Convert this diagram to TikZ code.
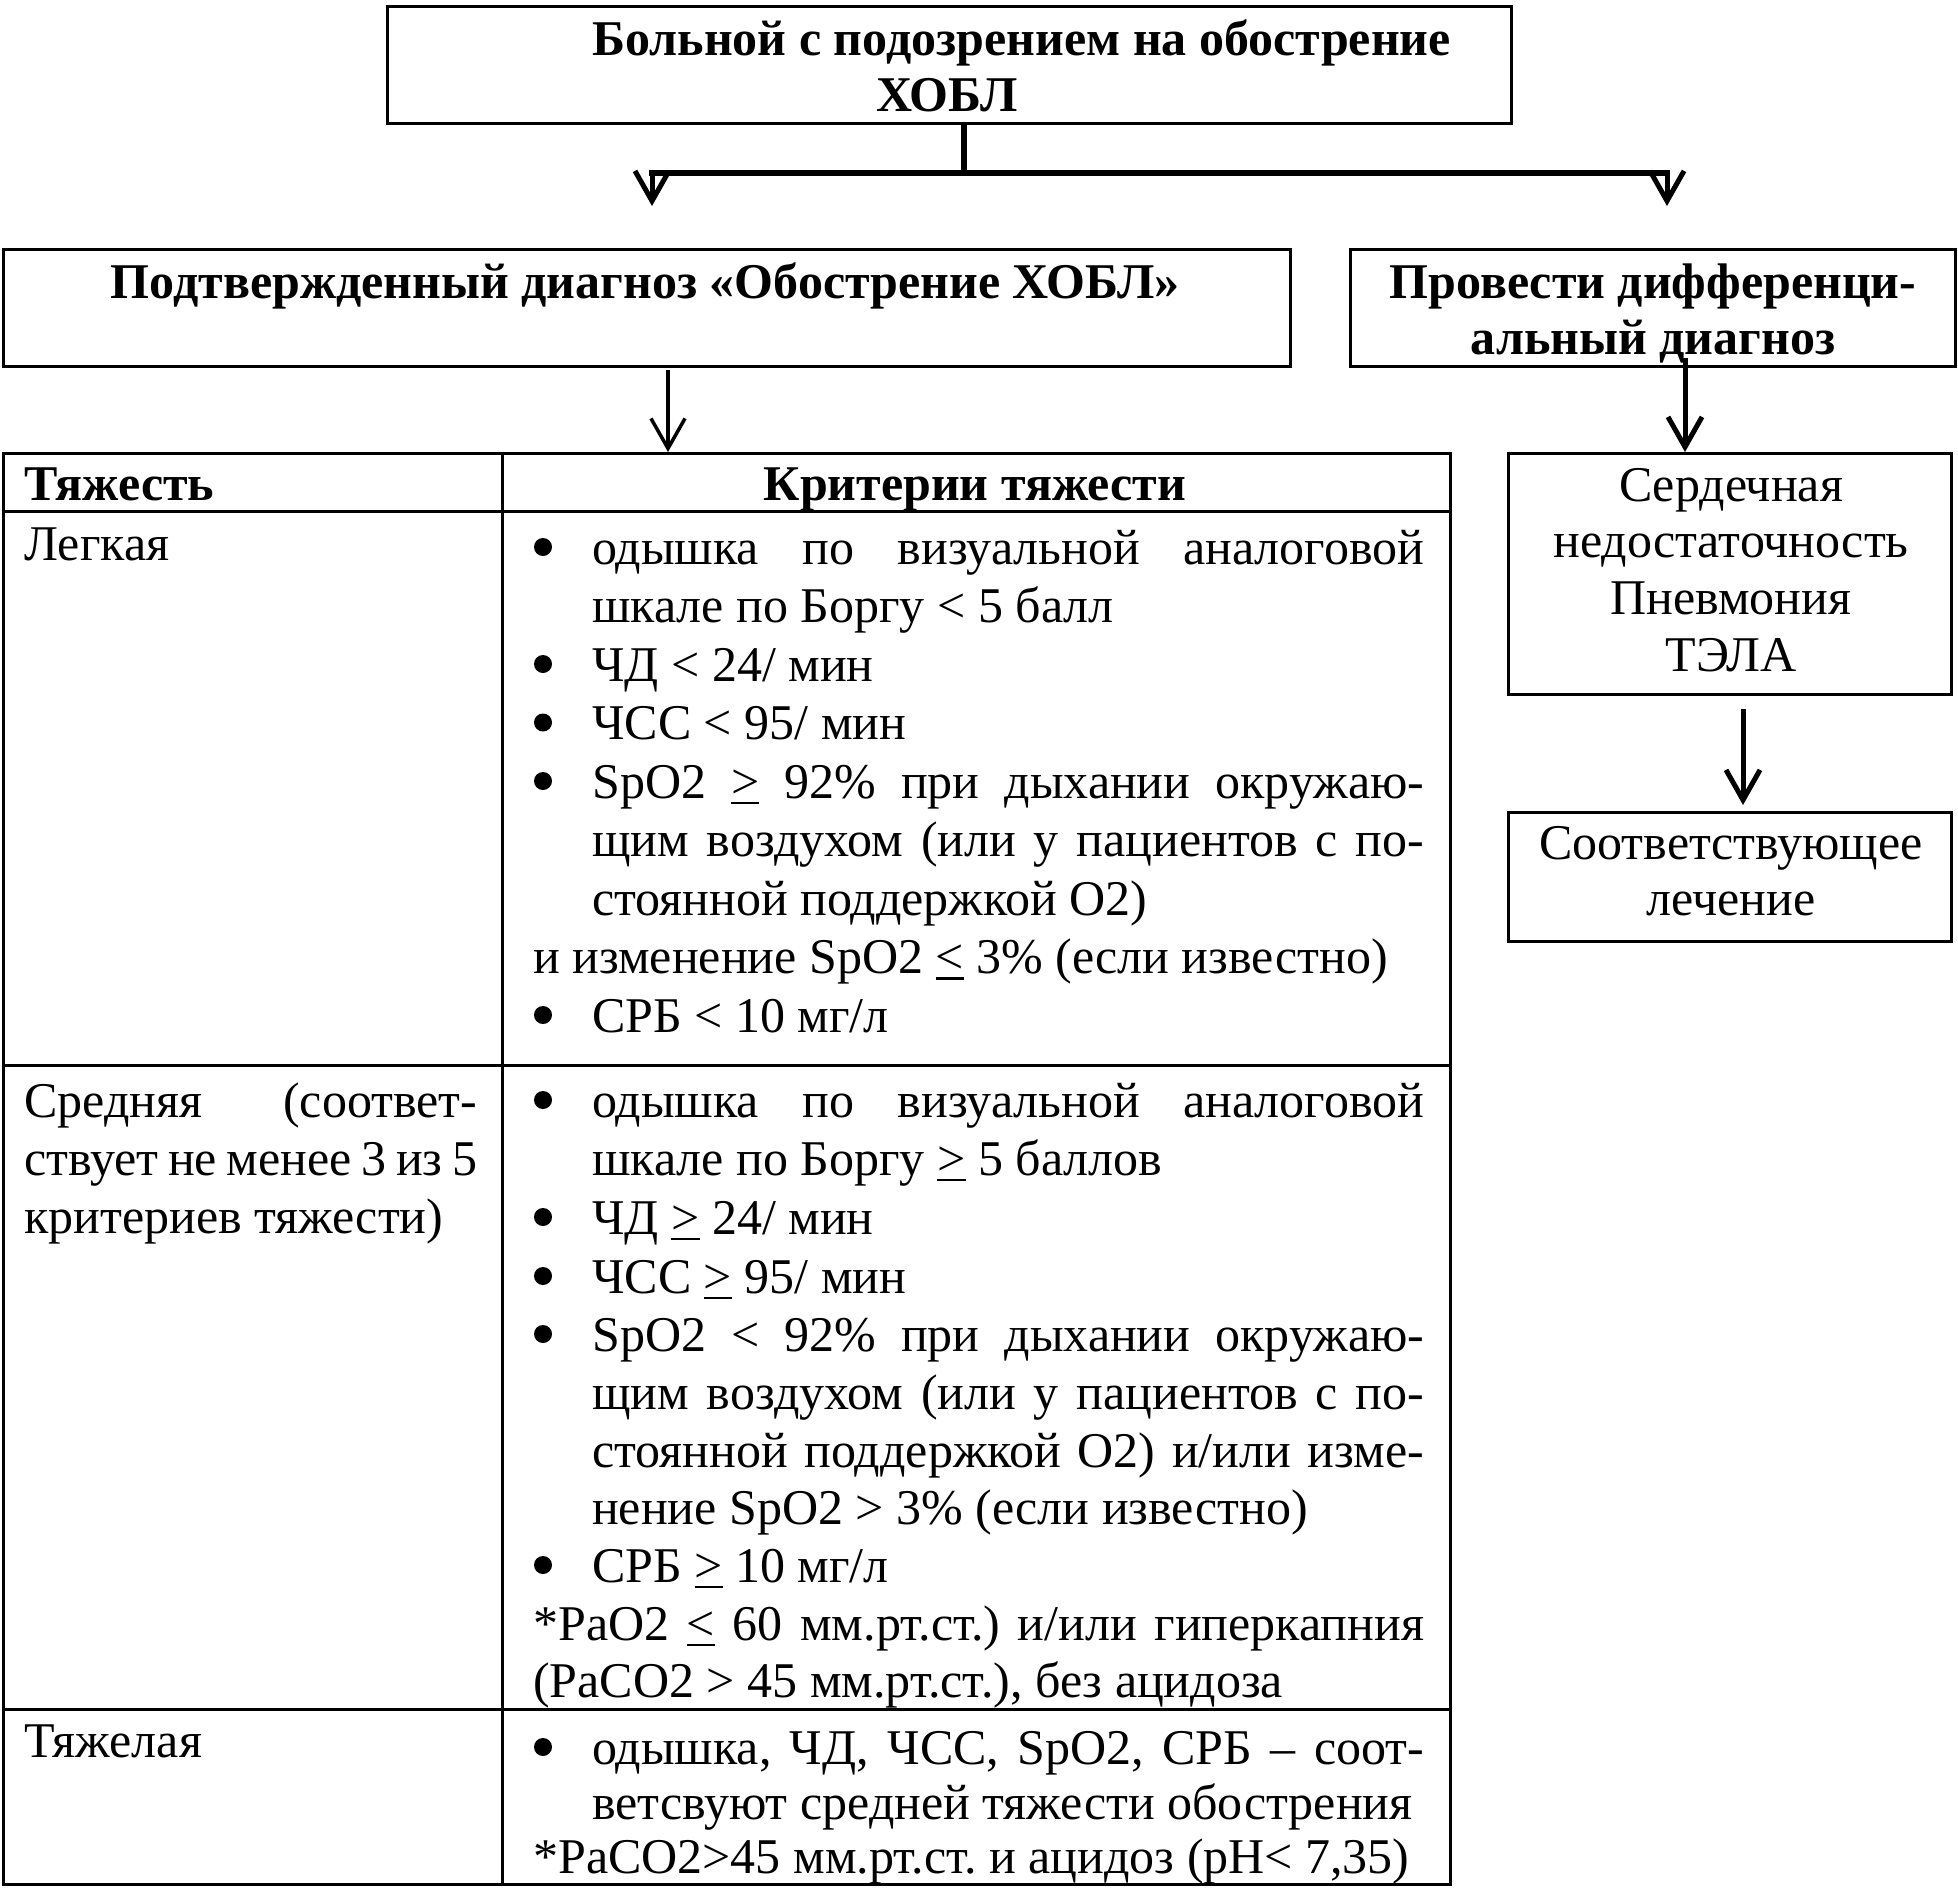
\documentclass[tikz,border=0pt]{standalone}
\usepackage{fontspec}
\setmainfont{Liberation Serif}
\usetikzlibrary{arrows.meta}
\frenchspacing
\newcommand\jline[2]{\makebox[#1pt][s]{#2}}
\newcommand\geu{\leavevmode\vtop{\hbox{>}\kern0.07em\hrule height 0.055em}}
\newcommand\leu{\leavevmode\vtop{\hbox{<}\kern0.07em\hrule height 0.055em}}
\tikzset{
  fnt/.style={font=\fontsize{50}{58}\selectfont\frenchspacing},
  box/.style={draw, line width=3pt, inner sep=0pt, anchor=north west},
  txt/.style={fnt, anchor=base west, inner sep=0pt},
  ctxt/.style={fnt, anchor=base, inner sep=0pt},
  dot/.style={circle, fill=black, inner sep=0pt, minimum size=18pt},
  conn/.style={line width=5.5pt},
  arr/.style={line width=5pt, -{Straight Barb[length=30pt,width=34pt]}},
  arrthin/.style={line width=3.5pt, -{Straight Barb[length=30pt,width=34pt]}},
  rule/.style={line width=3pt},
}
\begin{document}
\begin{tikzpicture}[x=1pt,y=-1pt]
\useasboundingbox[fill=white] (0,0) rectangle (1958,1892);
% boxes
\node[box, minimum width=1124pt, minimum height=117pt] (top) at (386,5) {};
\node[box, minimum width=1287pt, minimum height=117pt] (conf) at (2,248) {};
\node[box, minimum width=605pt, minimum height=117pt] (diff) at (1349,248) {};
\node[box, minimum width=1447pt, minimum height=1431pt] (tbl) at (2,452) {};
\node[box, minimum width=443pt, minimum height=241pt] (alts) at (1507,452) {};
\node[box, minimum width=443pt, minimum height=129pt] (treat) at (1507,811) {};
% table rules
\draw[rule] (502,452) -- (502,1883);
\draw[rule] (2,511) -- (1449,511);
\draw[rule] (2,1065) -- (1449,1065);
\draw[rule] (2,1709) -- (1449,1709);
% box texts
\node[txt] (t1) at (592,56) {\bfseries Больной с подозрением на обострение};
\node[ctxt] (t2) at (947,112) {\bfseries ХОБЛ};
\node[ctxt] (c1) at (645,298) {\bfseries Подтвержденный диагноз «Обострение ХОБЛ»};
\node[ctxt] (d1) at (1653,298) {\bfseries Провести дифференци-};
\node[ctxt] (d2) at (1653,354) {\bfseries альный диагноз};
\node[ctxt] (a1) at (1731,501) {Сердечная};
\node[ctxt] (a2) at (1731,557) {недостаточность};
\node[ctxt] (a3) at (1731,614) {Пневмония};
\node[ctxt] (a4) at (1731,671) {ТЭЛА};
\node[ctxt] (e1) at (1731,859) {Соответствующее};
\node[ctxt] (e2) at (1731,915) {лечение};
% connectors
\coordinate (jn) at (964,173);
\coordinate (bl) at (652,173);
\coordinate (br) at (1667,173);
\coordinate (blt) at (652,206);
\coordinate (brt) at (1667,206);
\coordinate (cs) at (668,370);
\coordinate (ds) at (1685,358);
\coordinate (as) at (1743,709);
\coordinate (tt) at (1743,805);
\draw[conn] (top.south -| jn) -- (jn);
\draw[conn, line cap=rect] (bl) -- (br);
\draw[arr] (bl) -- (blt);
\draw[arr] (br) -- (brt);
\draw[arrthin] (cs) -- (cs |- tbl.north);
\draw[arr] (ds) -- (ds |- alts.north);
\draw[arr] (as) -- (tt);
% header
\node[txt] (h1) at (24,500) {\bfseries Тяжесть};
\node[ctxt] (h2) at (975,500) {\bfseries Критерии тяжести};
% left column
\node[txt] (l1) at (24,560) {Легкая};
\node[txt] (l2) at (24,1117) {\jline{453}{Средняя (соответ-}};
\node[txt] (l3) at (24,1175) {\jline{453}{ствует не менее 3 из 5}};
\node[txt] (l4) at (24,1233) {критериев тяжести)};
\node[txt] (l5) at (24,1757) {Тяжелая};
% row 1
\node[dot] (b11) at (543,547) {};
\node[txt] (r11) at (592,564) {\jline{832}{одышка по визуальной аналоговой}};
\node[txt] (r12) at (592,622.5) {шкале по Боргу < 5 балл};
\node[dot] (b13) at (543,664) {};
\node[txt] (r13) at (592,681) {ЧД < 24/ мин};
\node[dot] (b14) at (543,722.5) {};
\node[txt] (r14) at (592,739.5) {ЧСС < 95/ мин};
\node[dot] (b15) at (543,781) {};
\node[txt] (r15) at (592,798) {\jline{832}{SpO2 \geu{} 92\% при дыхании окружаю-}};
\node[txt] (r16) at (592,856.5) {\jline{832}{щим воздухом (или у пациентов с по-}};
\node[txt] (r17) at (592,915) {стоянной поддержкой O2)};
\node[txt] (r18) at (533,973.5) {и изменение SpO2 \leu{} 3\% (если известно)};
\node[dot] (b19) at (543,1015) {};
\node[txt] (r19) at (592,1032) {СРБ < 10 мг/л};
% row 2
\node[dot] (b21) at (543,1100) {};
\node[txt] (r21) at (592,1117) {\jline{832}{одышка по визуальной аналоговой}};
\node[txt] (r22) at (592,1175) {шкале по Боргу \geu{} 5 баллов};
\node[dot] (b23) at (543,1217) {};
\node[txt] (r23) at (592,1234) {ЧД \geu{} 24/ мин};
\node[dot] (b24) at (543,1276) {};
\node[txt] (r24) at (592,1293) {ЧСС \geu{} 95/ мин};
\node[dot] (b25) at (543,1334) {};
\node[txt] (r25) at (592,1351) {\jline{832}{SpO2 < 92\% при дыхании окружаю-}};
\node[txt] (r26) at (592,1409) {\jline{832}{щим воздухом (или у пациентов с по-}};
\node[txt] (r27) at (592,1467) {\jline{832}{стоянной поддержкой O2) и/или изме-}};
\node[txt] (r28) at (592,1524) {нение SpO2 > 3\% (если известно)};
\node[dot] (b29) at (543,1565) {};
\node[txt] (r29) at (592,1582) {СРБ \geu{} 10 мг/л};
\node[txt] (r2a) at (533,1640) {\jline{891}{*PaO2 \leu{} 60 мм.рт.ст.) и/или гиперкапния}};
\node[txt] (r2b) at (533,1697) {(PaCO2 > 45 мм.рт.ст.), без ацидоза};
% row 3
\node[dot] (b31) at (543,1747) {};
\node[txt] (r31) at (592,1764) {\jline{832}{одышка, ЧД, ЧСС, SpO2, СРБ – соот-}};
\node[txt] (r32) at (592,1819) {ветсвуют средней тяжести обострения};
\node[txt] (r33) at (533,1873) {*PaCO2>45 мм.рт.ст. и ацидоз (pH< 7,35)};
\end{tikzpicture}
\end{document}
